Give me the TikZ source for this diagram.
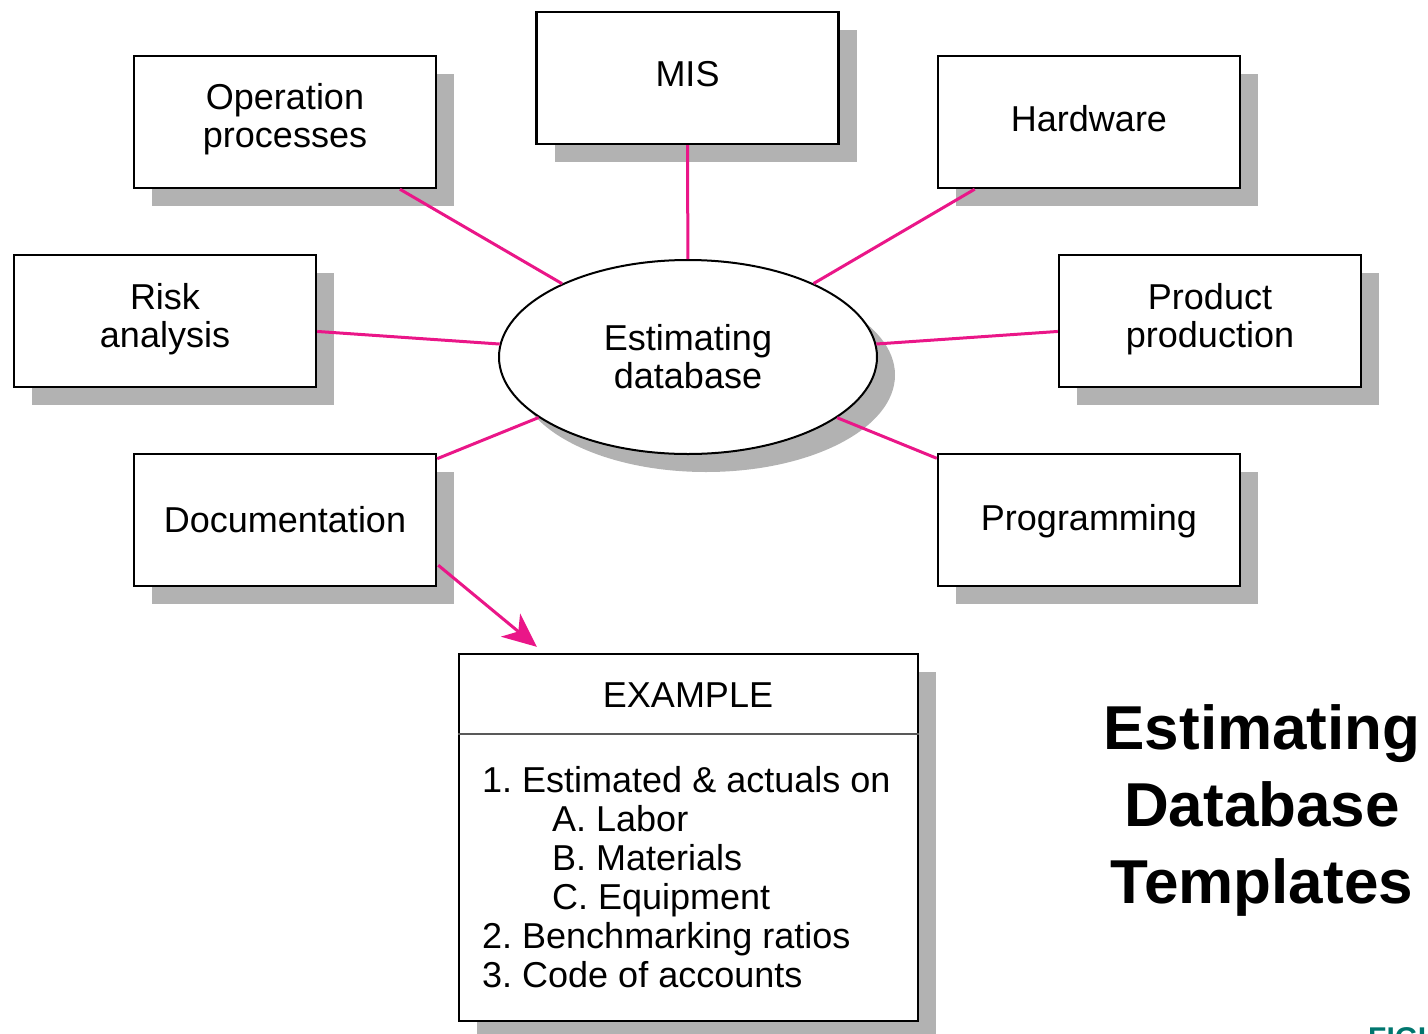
\documentclass[tikz,border=0pt]{standalone}
\usepackage{fontspec}
\setmainfont{Liberation Sans}
\usetikzlibrary{shapes.geometric,shadows,arrows.meta,calc}
\definecolor{linkpink}{RGB}{234,22,136}
\definecolor{shadowgray}{RGB}{178,178,178}
\definecolor{figteal}{RGB}{0,118,110}
\frenchspacing

\begin{document}
\begin{tikzpicture}[x=1pt,y=-1pt,
  boxshadow/.style={drop shadow={shadow xshift=18pt,shadow yshift=-18pt,fill=shadowgray,opacity=1}},
  bodytext/.style={font=\fontsize{36}{38}\selectfont},
  topic/.style={rectangle,draw=black,line width=2.4pt,fill=white,
    minimum width=302pt,minimum height=132pt,inner sep=0pt,align=center,
    bodytext,boxshadow},
  hub/.style={ellipse,draw=black,line width=2pt,fill=white,
    minimum width=378pt,minimum height=194pt,inner sep=0pt,align=center,
    bodytext,boxshadow},
  link/.style={draw=linkpink,line width=3pt},
  divider/.style={draw=black!65,line width=1.6pt}
]
\useasboundingbox (0,0) rectangle (1428,1034);
\clip (0,0) rectangle (1428,1034);

% surrounding topics
\node[topic,text depth=14pt] (op) at (285,122) {Operation\\processes};
\node[topic] (mis)  at (687.5,78) {MIS\vphantom{g}};
\node[topic] (hw)   at (1089,122) {Hardware\vphantom{g}};
\node[topic,text depth=12pt] (risk) at (165,321) {Risk\\analysis};
\node[topic,text depth=12pt] (prod) at (1210,321) {Product\\production};
\node[topic] (doc)  at (285,520)  {Documentation};
\node[topic,text height=29pt] (prog) at (1089,520) {Programming};

% central database
\node[hub] (db) at (688,357) {Estimating\\database};

% spokes
\draw[link] (db) -- (op);
\draw[link] (db) -- (mis);
\draw[link] (db) -- (hw);
\draw[link] (db) -- (risk);
\draw[link] (db) -- (prod);
\draw[link] (db) -- (doc);
\draw[link] (db) -- (prog);

% example box
\node[rectangle,draw=black,line width=2.4pt,fill=white,minimum width=459pt,
  minimum height=367pt,inner sep=0pt,boxshadow] (ex) at (688.5,837.5) {};
\node[bodytext,inner sep=0pt] (extitle) at (688,695) {EXAMPLE};
\draw[divider] ([yshift=-81pt]ex.north west) -- ([yshift=-81pt]ex.north east);
\node[font=\fontsize{36}{39}\selectfont,align=left,anchor=west,inner sep=0pt]
  (exlist) at (482,877) {1. Estimated \& actuals on\\
  \hspace*{70pt}A. Labor\\
  \hspace*{70pt}B. Materials\\
  \hspace*{70pt}C. Equipment\\
  2. Benchmarking ratios\\
  3. Code of accounts};

% arrow from documentation to the example
\coordinate (docout) at ($(doc.south east)+(1,-22)$);
\coordinate (exin) at ($(ex.north west)+(79,-6)$);
\draw[link,-{Stealth[length=34pt,width=30pt,inset=10pt]}] (docout) -- (exin);

% title
\node[font=\bfseries\fontsize{62}{77}\selectfont,align=center,inner sep=0pt]
  (title) at (1262,810) {Estimating\\Database\\Templates};

% figure caption running off the edge
\node[font=\bfseries\fontsize{30}{32}\selectfont,text=figteal,anchor=north west,inner sep=0pt]
  (fig) at (1368,1027) {FIGURE};
\end{tikzpicture}
\end{document}
